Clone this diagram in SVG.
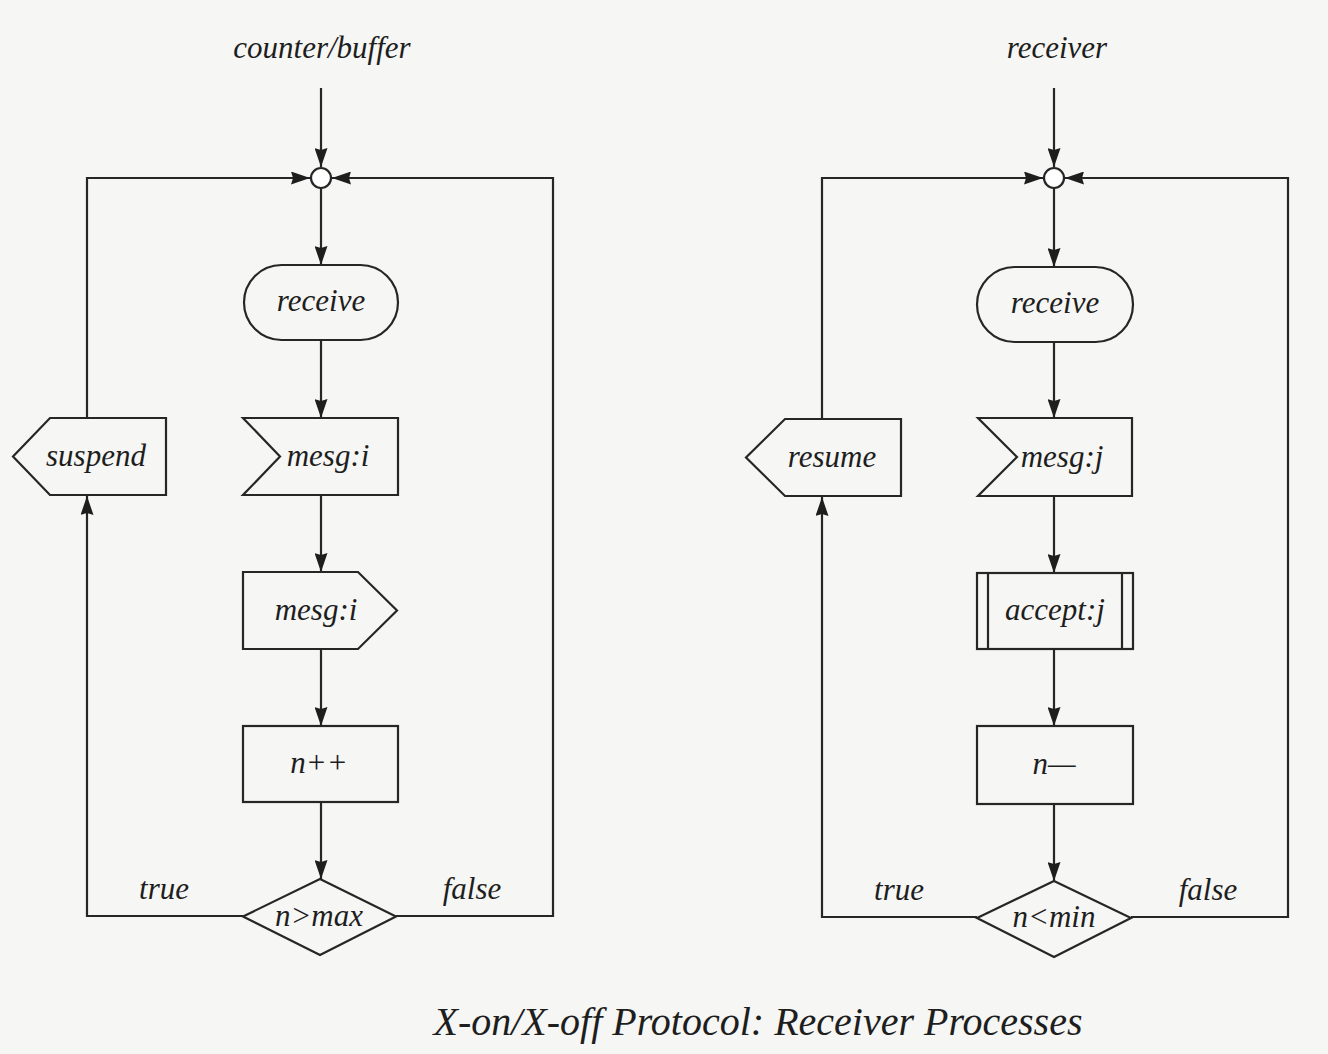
<svg xmlns="http://www.w3.org/2000/svg" width="1328" height="1054" viewBox="0 0 1328 1054">
  <style>
    .shape { fill: none; stroke: #262626; stroke-width: 2.2; }
    .wire { fill: none; stroke: #262626; stroke-width: 2.2; }
    .lbl { font-family: "Liberation Serif", "DejaVu Serif", serif; font-style: italic; fill: #1e1e1e; text-anchor: middle; }
    .node { font-size: 31px; }
    .head { font-size: 31px; }
    .cap { font-size: 40px; }
  </style>
  <defs>
    <!-- bold filled arrowhead shared by every connector -->
    <marker id="arr" viewBox="0 0 19 13" refX="19" refY="6.5" markerWidth="19" markerHeight="13" markerUnits="userSpaceOnUse" orient="auto">
      <path d="M0,0 L19,6.5 L0,13 L2,6.5 z" fill="#1e1e1e"/>
    </marker>
  </defs>

  <rect width="1328" height="1054" fill="#f6f6f4"/>

  <!-- connectors -->
  <g id="connectors">
    <!-- left process -->
    <line class="wire" x1="321" y1="88" x2="321" y2="167" marker-end="url(#arr)"/>
    <line class="wire" x1="321" y1="188" x2="321" y2="265" marker-end="url(#arr)"/>
    <line class="wire" x1="321" y1="340" x2="321" y2="418" marker-end="url(#arr)"/>
    <line class="wire" x1="321" y1="495" x2="321" y2="572" marker-end="url(#arr)"/>
    <line class="wire" x1="321" y1="649" x2="321" y2="726" marker-end="url(#arr)"/>
    <line class="wire" x1="321" y1="802" x2="321" y2="879" marker-end="url(#arr)"/>
    <polyline class="wire" points="243,916 87,916 87,496" marker-end="url(#arr)"/>
    <polyline class="wire" points="87,418 87,178 310,178" marker-end="url(#arr)"/>
    <polyline class="wire" points="396,916 553,916 553,178 332,178" marker-end="url(#arr)"/>

    <!-- right process -->
    <line class="wire" x1="1054" y1="88" x2="1054" y2="167" marker-end="url(#arr)"/>
    <line class="wire" x1="1054" y1="188" x2="1054" y2="267" marker-end="url(#arr)"/>
    <line class="wire" x1="1054" y1="342" x2="1054" y2="418" marker-end="url(#arr)"/>
    <line class="wire" x1="1054" y1="496" x2="1054" y2="573" marker-end="url(#arr)"/>
    <line class="wire" x1="1054" y1="649" x2="1054" y2="726" marker-end="url(#arr)"/>
    <line class="wire" x1="1054" y1="804" x2="1054" y2="881" marker-end="url(#arr)"/>
    <polyline class="wire" points="977,917 822,917 822,497" marker-end="url(#arr)"/>
    <polyline class="wire" points="822,419 822,178 1043,178" marker-end="url(#arr)"/>
    <polyline class="wire" points="1131,917 1288,917 1288,178 1065,178" marker-end="url(#arr)"/>
  </g>

  <!-- left process: counter/buffer -->
  <g id="title-counter">
    <text class="lbl head" x="322" y="58">counter/buffer</text>
  </g>
  <g id="join-left">
    <circle cx="321" cy="178" r="10" fill="#fff" stroke="#262626" stroke-width="2.2"/>
  </g>
  <g id="receive-left">
    <rect class="shape" x="244" y="265" width="154" height="75" rx="37.5" ry="37.5" fill="#fafafa"/>
    <text class="lbl node" x="321" y="311">receive</text>
  </g>
  <g id="in-mesg-i">
    <polygon class="shape" points="243,418 398,418 398,495 243,495 280,456.5"/>
    <text class="lbl node" x="328" y="466">mesg:i</text>
  </g>
  <g id="suspend">
    <polygon class="shape" points="50,418 166,418 166,495 50,495 13,456.5"/>
    <text class="lbl node" x="96" y="466">suspend</text>
  </g>
  <g id="out-mesg-i">
    <polygon class="shape" points="243,572 358,572 397,610.5 358,649 243,649"/>
    <text class="lbl node" x="316" y="620">mesg:i</text>
  </g>
  <g id="incr">
    <rect class="shape" x="243" y="726" width="155" height="76"/>
    <text class="lbl node" x="319" y="773">n++</text>
  </g>
  <g id="test-max">
    <polygon class="shape" points="320,879 396,916.5 320,955 243,916.5"/>
    <text class="lbl node" x="319" y="926">n&gt;max</text>
  </g>
  <g id="labels-left">
    <text class="lbl node" x="164" y="899">true</text>
    <text class="lbl node" x="472" y="899">false</text>
  </g>

  <!-- right process: receiver -->
  <g id="title-receiver">
    <text class="lbl head" x="1057" y="58">receiver</text>
  </g>
  <g id="join-right">
    <circle cx="1054" cy="178" r="10" fill="#fff" stroke="#262626" stroke-width="2.2"/>
  </g>
  <g id="receive-right">
    <rect class="shape" x="977" y="267" width="156" height="75" rx="37.5" ry="37.5" fill="#fafafa"/>
    <text class="lbl node" x="1055" y="313">receive</text>
  </g>
  <g id="in-mesg-j">
    <polygon class="shape" points="978,418 1132,418 1132,496 978,496 1017,457"/>
    <text class="lbl node" x="1062" y="467">mesg:j</text>
  </g>
  <g id="resume">
    <polygon class="shape" points="785,419 901,419 901,496 785,496 746,457.5"/>
    <text class="lbl node" x="832" y="467">resume</text>
  </g>
  <g id="accept-j">
    <rect class="shape" x="977" y="573" width="156" height="76"/>
    <line class="shape" x1="988" y1="573" x2="988" y2="649"/>
    <line class="shape" x1="1122" y1="573" x2="1122" y2="649"/>
    <text class="lbl node" x="1055" y="620">accept:j</text>
  </g>
  <g id="decr">
    <rect class="shape" x="977" y="726" width="156" height="78"/>
    <text class="lbl node" x="1054" y="774">n—</text>
  </g>
  <g id="test-min">
    <polygon class="shape" points="1054,881 1131,918 1054,957 977,918"/>
    <text class="lbl node" x="1054" y="927">n&lt;min</text>
  </g>
  <g id="labels-right">
    <text class="lbl node" x="899" y="900">true</text>
    <text class="lbl node" x="1208" y="900">false</text>
  </g>

  <!-- caption -->
  <g id="caption">
    <text class="lbl cap" x="758" y="1035">X-on/X-off Protocol: Receiver Processes</text>
  </g>
</svg>
